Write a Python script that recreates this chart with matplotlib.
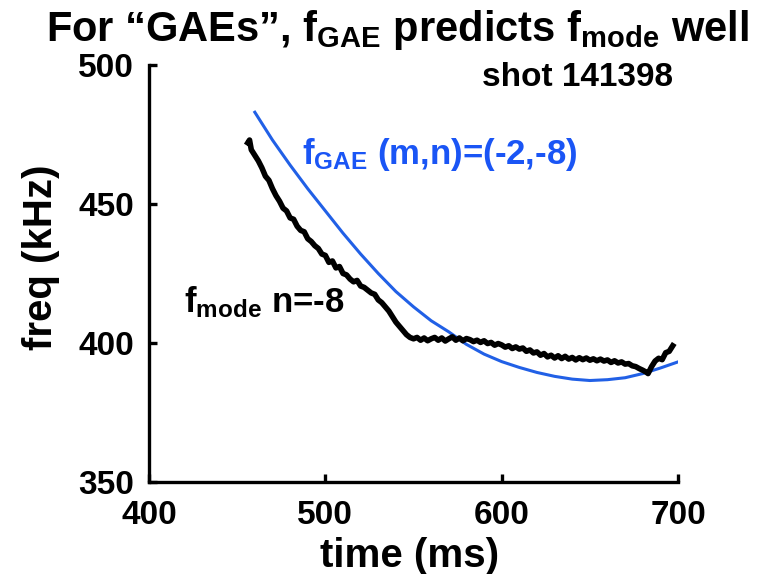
import numpy as np
import matplotlib.pyplot as plt

plt.rcParams['font.family'] = ['Liberation Sans', 'DejaVu Sans']
plt.rcParams['font.weight'] = 'bold'
plt.rcParams['mathtext.fontset'] = 'custom'
plt.rcParams['mathtext.rm'] = 'Liberation Sans:bold'
plt.rcParams['mathtext.default'] = 'rm'

# f_GAE model curve (m,n)=(-2,-8)
gae_time = [460, 470, 480, 490, 500, 510, 520, 530, 540, 550, 560, 570, 580,
            590, 600, 610, 620, 630, 640, 650, 660, 670, 680, 690, 700]
gae_freq = [483, 473, 464, 455.5, 447.5, 439.5, 432, 425, 418.5, 413, 408, 404, 399.5,
            396, 393.3, 391.2, 389.4, 388, 387, 386.5, 386.8, 387.5, 389, 391, 393.2]

# measured mode frequency n=-8
mode_time = [456, 457, 458, 460, 462, 464, 466, 468, 470, 472, 474, 476, 478, 480,
             482, 484, 486, 488, 490, 492, 494, 496, 498, 500, 502, 504, 506, 508,
             510, 512, 514, 516, 518, 520, 522, 524, 526, 528, 530, 532, 534, 536,
             538, 540, 542, 544, 546, 548, 550, 552, 554, 556, 558, 560, 562, 564,
             566, 568, 570, 572, 574, 576, 578, 580, 582, 584, 586, 588, 590, 592,
             594, 596, 598, 600, 602, 604, 606, 608, 610, 612, 614, 616, 618, 620,
             622, 624, 626, 628, 630, 632, 634, 636, 638, 640, 642, 644, 646, 648,
             650, 652, 654, 656, 658, 660, 662, 664, 666, 668, 670, 672, 674, 676,
             678, 680, 682, 683, 685, 687, 689, 691, 693, 695, 697]
mode_freq = [472, 473, 469.5, 467.5, 465.5, 463, 460, 458.5, 455.5, 453, 451, 448.5, 447.5, 445,
             444.5, 442, 440.5, 440, 437.5, 436.5, 435, 434, 432, 431.5, 429, 429.5, 427, 427.5,
             425, 424.5, 423, 422, 422.5, 420.5, 420, 419, 418, 417.5, 415.5, 414.5, 413, 411.5,
             409.5, 407.5, 406, 404.5, 403, 402, 401.5, 402, 401, 401.8, 400.8, 401.5, 402, 401,
             401.8, 400.7, 401.5, 402.2, 401, 401.8, 400.8, 401.6, 401.2, 400.5, 401, 400.2, 400.8, 399.8,
             400.2, 399.2, 399.8, 399.3, 398.5, 399, 398, 398.6, 397.8, 398.2, 397, 397.5, 396.4, 396.8,
             395.6, 396.2, 395, 395.6, 394.6, 395.4, 394.4, 395.2, 394.2, 394.8, 393.9, 394.7, 394, 394.6,
             393.8, 394.3, 393.6, 394.2, 393.5, 393.9, 393, 393.6, 392.8, 393.2, 392.4, 392.6, 391.8, 391.5,
             390.8, 390.2, 389.5, 389, 391.5, 393.5, 394.5, 394, 396.5, 397, 399]

BLUE_LINE = '#2160e6'
BLUE_TEXT = '#1a55f5'

fig = plt.figure(figsize=(7.69, 5.74), dpi=100)
ax = fig.add_axes([0.1938, 0.1603, 0.6879, 0.7265])

ax.plot(gae_time, gae_freq, color=BLUE_LINE, lw=2.2, zorder=2)
ax.plot(mode_time, mode_freq, color='black', lw=4, zorder=3)

ax.set_xlim(400, 700)
ax.set_ylim(350, 500)
ax.set_xticks([400, 500, 600, 700])
ax.set_yticks([350, 400, 450, 500])

for side in ['top', 'right']:
    ax.spines[side].set_visible(False)
for side in ['left', 'bottom']:
    ax.spines[side].set_linewidth(2.4)
ax.tick_params(direction='in', length=6, width=2.4, labelsize=24)
ax.tick_params(axis='x', pad=13)
ax.tick_params(axis='y', pad=11)
for lbl in ax.get_xticklabels() + ax.get_yticklabels():
    lbl.set_fontweight('bold')

ax.set_xlabel('time (ms)', fontsize=29, fontweight='bold')
ax.xaxis.set_label_coords(0.4934, -0.132)
ax.set_ylabel('freq (kHz)', fontsize=29, fontweight='bold')
ax.yaxis.set_label_coords(-0.168, 0.54)

ax.text(697, 495.5, 'shot 141398', fontsize=24, fontweight='bold', ha='right', va='center')
ax.text(487, 464.5, r'f$_{GAE}$ (m,n)=(-2,-8)', fontsize=25, color=BLUE_TEXT,
        fontweight='bold', va='baseline')
ax.text(420, 411, r'f$_{mode}$ n=-8', fontsize=25, color='black',
        fontweight='bold', va='baseline')

fig.text(0.517, 0.928, r'For “GAEs”, f$_{GAE}$ predicts f$_{mode}$ well',
         fontsize=30, fontweight='bold', ha='center', va='baseline')

fig.savefig('out.png', dpi=100)
